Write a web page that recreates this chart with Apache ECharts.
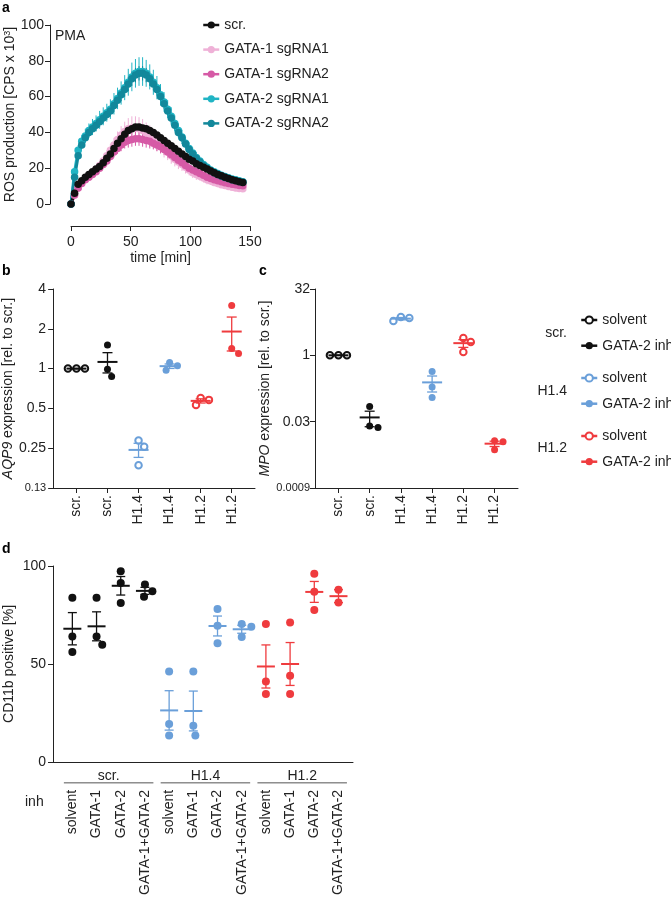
<!DOCTYPE html>
<html>
<head>
<meta charset="utf-8">
<script src="https://cdn.jsdelivr.net/npm/echarts@6/dist/echarts.min.js"></script>
<style>
  html, body { margin: 0; padding: 0; background: #fff; }
  #chart { width: 671px; height: 898px; }
</style>
</head>
<body>
<div id="chart"></div>
<script>
// ---- panel a: ROS kinetics (mean and SEM every 3 min) ----
const times = [0,3,6,9,12,15,18,21,24,27,30,33,36,39,42,45,48,51,54,57,60,63,66,69,72,75,78,81,84,87,90,93,96,99,102,105,108,111,114,117,120,123,126,129,132,135,138,141,144];
const scrMean = [0,6,11,13,15,16.5,18,19.5,21,23,25.5,28,31,34,36.5,39,41,42,43,43,42.5,42,41,40,38.5,37,35.5,34,32.5,31,29.5,28,26.5,25,24,22.5,21.5,20.5,19.5,18.5,17.5,16.5,15.8,15,14.3,13.6,13,12.5,12];
const scrSem = [0,0.5,0.8,1,1,1,1,1,1,1.2,1.2,1.2,1.3,1.3,1.3,1.4,1.4,1.4,1.4,1.4,1.4,1.4,1.3,1.3,1.3,1.2,1.2,1.2,1.1,1.1,1.1,1,1,1,1,1,0.9,0.9,0.9,0.9,0.8,0.8,0.8,0.8,0.7,0.7,0.7,0.7,0.7];
const g1r1Mean = [0,5,9,12,14,16,17.5,19.5,21.5,24,27,30,33,36,38.5,40.5,42,42.5,42.5,42,41,39.5,38,36.5,35,33,31,29,27,25,23.5,22,20.5,19,17.5,16.5,15.5,14.5,13.5,12.8,12,11.4,10.8,10.3,9.8,9.4,9,8.7,8.5];
const g1r1Sem = [0,0.5,1,1,1,1.5,1.5,2,2,2.5,3,3.5,4,4.5,5,5.5,6,6.5,6.5,6.5,6.5,6,6,5.5,5.5,5,5,4.5,4.5,4,4,3.5,3.5,3,3,3,2.5,2.5,2.5,2.2,2,2,1.8,1.8,1.6,1.6,1.5,1.5,1.5];
const g1r2Mean = [0,5,9,11.5,13.5,15,16.5,18,20,22,24,26.5,29,31,33,34.5,35.5,36,36.5,36.5,36,35.5,35,34,33,32,30.5,29,27.5,26,24.5,23,21.5,20,19,18,17,16,15,14.3,13.6,13,12.4,11.9,11.4,11,10.7,10.4,10.2];
const g1r2Sem = [0,0.5,1,1,1,1.2,1.5,1.5,2,2,2.5,2.5,3,3,3.5,3.5,4,4,4,4,4,4,4,3.5,3.5,3.5,3,3,3,3,2.5,2.5,2.5,2.2,2,2,2,1.8,1.6,1.5,1.5,1.4,1.3,1.2,1.2,1.1,1,1,1];
const g2r1Mean = [0,18,30,35,38,41,43,45,47,49,51,53,56,59,62,65,68,71,73,74,74,73,71,68,65,61,57,53,49,45,41,37.5,34,31,28.5,26,24,22,20.5,19,18,17,16,15.3,14.6,14,13.5,13,12.5];
const g2r1Sem = [0,2,3,3.5,4,4,4.5,4.5,5,5,5,5.5,6,6,6.5,7,7.5,8,8,8,8,7.5,7,7,6.5,6,5.5,5,5,4.5,4,4,3.5,3.5,3,3,2.5,2.5,2.5,2,2,2,2,1.8,1.8,1.6,1.5,1.5,1.5];
const g2r2Mean = [0,15,27,33,37,40,42,44,46,48,50,52,55,58,61,64,67,70,72,73,73,72,70,67,64,60,56,52,48,44,40,37,33.5,30.5,28,25.5,23.5,21.5,20,18.7,17.5,16.5,15.6,14.8,14.2,13.6,13.1,12.6,12.2];
const g2r2Sem = [0,1.5,2,2,2.5,2.5,2.5,3,3,3,3,3,3.5,3.5,3.5,4,4,4,4,4,4,4,4,3.5,3.5,3.5,3,3,3,3,2.5,2.5,2.5,2,2,2,2,1.8,1.6,1.5,1.5,1.4,1.3,1.2,1.2,1.1,1,1,1];
const curveNames = ['scr.', 'GATA-1 sgRNA1', 'GATA-1 sgRNA2', 'GATA-2 sgRNA1', 'GATA-2 sgRNA2'];
const rosTicks = [0, 20, 40, 60, 80, 100];

// ---- panels b/c: qPCR, three replicates per condition ----
const exprLines = ['scr.', 'scr.', 'H1.4', 'H1.4', 'H1.2', 'H1.2'];
const exprTreat = ['solvent', 'GATA-2 inh', 'solvent', 'GATA-2 inh', 'solvent', 'GATA-2 inh'];
const aqp9 = [[1, 1, 1], [1.51, 0.99, 0.87], [0.286, 0.256, 0.186], [1.11, 1.05, 0.97], [0.6, 0.58, 0.53], [3.0, 1.42, 1.3]];
const mpo = [[1, 1, 1], [0.069, 0.025, 0.023], [7.4, 6.0, 7.0], [0.43, 0.19, 0.11], [2.48, 2.0, 1.19], [0.0115, 0.011, 0.0072]];
const aqp9Ticks = [0.125, 0.25, 0.5, 1, 2, 4];
const aqp9TickText = ['0.13', '0.25', '0.5', '1', '2', '4'];
const mpoTicks = [1 / 1024, 1 / 32, 1, 32];
const mpoTickText = ['0.0009', '0.03', '1', '32'];

// ---- panel d: CD11b positive cells ----
const cd11bLines = ['scr.', 'scr.', 'scr.', 'scr.', 'H1.4', 'H1.4', 'H1.4', 'H1.4', 'H1.2', 'H1.2', 'H1.2', 'H1.2'];
const cd11bInh = ['solvent', 'GATA-1', 'GATA-2', 'GATA-1+GATA-2', 'solvent', 'GATA-1', 'GATA-2', 'GATA-1+GATA-2', 'solvent', 'GATA-1', 'GATA-2', 'GATA-1+GATA-2'];
const cd11b = [
  [83.8, 64, 56.1], [83.8, 64, 59.8], [97.3, 91.3, 81.1], [90.5, 87.1, 84.3],
  [46.1, 19.3, 13.4], [46.1, 18.4, 13.4], [78.1, 69.5, 60.5], [70.4, 69, 63.7],
  [70.4, 41, 34.7], [71.2, 44, 34.7], [96, 86.8, 77.5], [87.9, 81.3]
];
const cd11bTicks = [0, 50, 100];

const FONT = '"Liberation Sans", Arial, sans-serif';
const INK = '#222';
const curveColors = ['#111111', '#efb1d7', '#d65aa6', '#20b4c4', '#12889b'];
const lineColors = { 'scr.': '#111111', 'H1.4': '#6a9fd9', 'H1.2': '#ef3b3e' };

const chart = echarts.init(document.getElementById('chart'));

function axis(extra) {
  return Object.assign({}, extra, {
    axisLine: Object.assign({ show: true, onZero: false, lineStyle: { color: INK, width: 1 } }, extra.axisLine || {}),
    axisTick: Object.assign({ show: true, length: 5, lineStyle: { color: INK } }, extra.axisTick || {}),
    axisLabel: Object.assign({ color: INK, fontSize: 14, fontFamily: FONT }, extra.axisLabel || {}),
    splitLine: { show: false },
    nameTextStyle: Object.assign({ color: INK, fontSize: 14, fontFamily: FONT }, extra.nameTextStyle || {})
  });
}

function tickText(v, ticks, texts) {
  const k = ticks.findIndex(t => Math.abs(t - v) / t < 1e-6);
  if (k < 0) return '';
  return texts[k].length > 4 || texts[k] === '0.13' ? '{s|' + texts[k] + '}' : texts[k];
}

function meanSem(vals) {
  const n = vals.length;
  const m = vals.reduce((s, v) => s + v, 0) / n;
  const sd = Math.sqrt(vals.reduce((s, v) => s + (v - m) * (v - m), 0) / (n - 1));
  return [m, sd / Math.sqrt(n)];
}

function meanBars(colors, halfMean, halfCap) {
  return function (params, api) {
    const x = api.value(0), m = api.value(1), s = api.value(2);
    const c = api.coord([x, m]);
    const hi = api.coord([x, m + s]);
    const lo = api.coord([x, m - s]);
    const color = colors[params.dataIndex];
    const thin = { stroke: color, lineWidth: 1.3 };
    return {
      type: 'group',
      children: [
        { type: 'line', shape: { x1: c[0], y1: hi[1], x2: c[0], y2: lo[1] }, style: thin },
        { type: 'line', shape: { x1: c[0] - halfCap, y1: hi[1], x2: c[0] + halfCap, y2: hi[1] }, style: thin },
        { type: 'line', shape: { x1: c[0] - halfCap, y1: lo[1], x2: c[0] + halfCap, y2: lo[1] }, style: thin },
        { type: 'line', shape: { x1: c[0] - halfMean, y1: c[1], x2: c[0] + halfMean, y2: c[1] }, style: { stroke: color, lineWidth: 2 } }
      ]
    };
  };
}

// panel a series (draw order: light pink, magenta, cyan, teal, black)
const curveMeans = [scrMean, g1r1Mean, g1r2Mean, g2r1Mean, g2r2Mean];
const curveSems = [scrSem, g1r1Sem, g1r2Sem, g2r1Sem, g2r2Sem];
const seriesA = [];
[1, 2, 3, 4, 0].forEach(k => {
  const color = curveColors[k];
  seriesA.push({
    type: 'custom', xAxisIndex: 0, yAxisIndex: 0, silent: true,
    encode: { x: 0, y: 1 },
    data: times.map((t, i) => [t, curveMeans[k][i], curveSems[k][i]]),
    renderItem: (params, api) => {
      const hi = api.coord([api.value(0), api.value(1) + api.value(2)]);
      const lo = api.coord([api.value(0), api.value(1) - api.value(2)]);
      return { type: 'line', shape: { x1: hi[0], y1: hi[1], x2: lo[0], y2: lo[1] }, style: { stroke: color, lineWidth: 1 } };
    }
  });
  seriesA.push({
    type: 'line', name: curveNames[k], xAxisIndex: 0, yAxisIndex: 0,
    data: times.map((t, i) => [t, curveMeans[k][i]]),
    symbol: 'circle', symbolSize: 7.5, color: color,
    lineStyle: { width: 3, color: color }, itemStyle: { color: color }
  });
});

// panels b/c scatter series (data filled in after layout)
function exprSeries(prefix, xi) {
  return exprLines.map((ln, i) => {
    const color = lineColors[ln];
    const open = exprTreat[i] === 'solvent';
    return {
      id: prefix + i, type: 'line', name: ln + '|' + exprTreat[i],
      xAxisIndex: xi, yAxisIndex: xi, data: [],
      symbol: open ? 'emptyCircle' : 'circle', symbolSize: open ? 6.5 : 7, z: 3,
      color: color,
      itemStyle: { color: color, borderWidth: open ? 1.8 : 0 },
      lineStyle: { opacity: 0, color: color }
    };
  });
}

function exprMeans(groups, xi) {
  return {
    type: 'custom', xAxisIndex: xi, yAxisIndex: xi, silent: true, z: 4,
    encode: { x: 0, y: 1 },
    data: groups.map((vals, i) => [i].concat(meanSem(vals))),
    renderItem: meanBars(exprLines.map(l => lineColors[l]), 10, 5)
  };
}

const seriesD = cd11b.map((vals, i) => ({
  id: 'd' + i, type: 'scatter', xAxisIndex: 3, yAxisIndex: 3, data: [],
  symbol: 'circle', symbolSize: 8, z: 3, itemStyle: { color: lineColors[cd11bLines[i]], opacity: 1 }
}));

const groupNames = [...new Set(cd11bLines)];
const groupCenters = groupNames.map(g => {
  const idx = cd11bLines.map((l, i) => (l === g ? i : -1)).filter(i => i >= 0);
  return [idx.reduce((s, v) => s + v, 0) / idx.length, 0, (idx[idx.length - 1] - idx[0]) / 2 + 0.35];
});

const legendCommon = {
  orient: 'vertical', padding: 0, itemWidth: 16, itemHeight: 9, selectedMode: false,
  textStyle: { fontFamily: FONT, fontSize: 14, color: INK },
  lineStyle: { width: 2.5, opacity: 1 }
};

const option = {
  animation: false,
  backgroundColor: '#fff',
  textStyle: { fontFamily: FONT },
  grid: [
    { left: 71, top: 25, width: 179, height: 179 },
    { left: 53, top: 289, width: 202, height: 199 },
    { left: 315, top: 289, width: 203, height: 199 },
    { left: 53, top: 566, width: 300, height: 199 }
  ],
  xAxis: [
    axis({ gridIndex: 0, type: 'value', min: 0, max: 150, interval: 50, offset: 22,
      name: 'time [min]', nameLocation: 'middle', nameGap: 25, axisLabel: { margin: 9 } }),
    axis({ gridIndex: 1, type: 'value', min: -0.75, max: 5.75,
      axisTick: { customValues: exprLines.map((l, i) => i) },
      axisLabel: { customValues: exprLines.map((l, i) => i), rotate: 90, margin: 7, formatter: v => exprLines[Math.round(v)] } }),
    axis({ gridIndex: 2, type: 'value', min: -0.75, max: 5.75,
      axisTick: { customValues: exprLines.map((l, i) => i) },
      axisLabel: { customValues: exprLines.map((l, i) => i), rotate: 90, margin: 7, formatter: v => exprLines[Math.round(v)] } }),
    axis({ gridIndex: 3, type: 'value', min: -0.8, max: 11.6,
      axisTick: { show: false },
      axisLabel: { customValues: cd11bInh.map((l, i) => i), rotate: 90, margin: 28, formatter: v => cd11bInh[Math.round(v)] } })
  ],
  yAxis: [
    axis({ gridIndex: 0, type: 'value', min: rosTicks[0], max: rosTicks[rosTicks.length - 1], interval: 20, offset: 21,
      name: 'ROS production [CPS x 10{sup|3}]', nameLocation: 'middle', nameGap: 31,
      nameTextStyle: { rich: { sup: { fontSize: 9, fontFamily: FONT, color: INK, verticalAlign: 'top' } } },
      axisLabel: { margin: 6 } }),
    axis({ gridIndex: 1, type: 'log', logBase: 2, min: aqp9Ticks[0], max: aqp9Ticks[aqp9Ticks.length - 1],
      name: '{i|AQP9} expression [rel. to scr.]', nameLocation: 'middle', nameGap: 36,
      nameTextStyle: { rich: { i: { fontStyle: 'italic', fontSize: 14, fontFamily: FONT, color: INK } } },
      axisLabel: { margin: 7, formatter: v => tickText(v, aqp9Ticks, aqp9TickText),
        rich: { s: { fontSize: 11, fontFamily: FONT, color: INK } } } }),
    axis({ gridIndex: 2, type: 'log', logBase: 32, min: mpoTicks[0], max: mpoTicks[mpoTicks.length - 1],
      name: '{i|MPO} expression [rel. to scr.]', nameLocation: 'middle', nameGap: 35,
      nameTextStyle: { rich: { i: { fontStyle: 'italic', fontSize: 14, fontFamily: FONT, color: INK } } },
      axisLabel: { margin: 5, formatter: v => tickText(v, mpoTicks, mpoTickText),
        rich: { s: { fontSize: 11, fontFamily: FONT, color: INK } } } }),
    axis({ gridIndex: 3, type: 'value', min: cd11bTicks[0], max: cd11bTicks[cd11bTicks.length - 1], interval: 50,
      name: 'CD11b positive [%]', nameLocation: 'middle', nameGap: 37, axisLabel: { margin: 7 } })
  ],
  legend: [
    Object.assign({}, legendCommon, { left: 202, top: 18, itemGap: 10.6, data: curveNames }),
    ...groupNames.map((g, k) => Object.assign({}, legendCommon, {
      left: 580, top: [313, 371, 429][k], itemGap: 11.7,
      data: [g + '|solvent', g + '|GATA-2 inh'],
      formatter: n => n.split('|')[1]
    }))
  ],
  graphic: [
    { type: 'text', left: 2, top: 1, style: { text: 'a', font: 'bold 14px ' + FONT, fill: '#000' } },
    { type: 'text', left: 2, top: 264, style: { text: 'b', font: 'bold 14px ' + FONT, fill: '#000' } },
    { type: 'text', left: 259, top: 264, style: { text: 'c', font: 'bold 14px ' + FONT, fill: '#000' } },
    { type: 'text', left: 2, top: 542, style: { text: 'd', font: 'bold 14px ' + FONT, fill: '#000' } },
    { type: 'text', left: 55, top: 29, style: { text: 'PMA', font: '14px ' + FONT, fill: INK } },
    { type: 'text', left: 25, top: 795, style: { text: 'inh', font: '14px ' + FONT, fill: INK } },
    ...groupNames.map((g, k) => ({
      type: 'text', x: 567, y: [333, 391, 448][k],
      style: { text: g, font: '14px ' + FONT, fill: INK, align: 'right', verticalAlign: 'middle' }
    }))
  ],
  series: [
    ...seriesA,
    ...exprSeries('b', 1), exprMeans(aqp9, 1),
    ...exprSeries('c', 2), exprMeans(mpo, 2),
    ...seriesD,
    {
      type: 'custom', xAxisIndex: 3, yAxisIndex: 3, silent: true, z: 4,
      encode: { x: 0, y: 1 },
      data: cd11b.map((vals, i) => [i].concat(meanSem(vals))),
      renderItem: meanBars(cd11bLines.map(l => lineColors[l]), 9, 4.5)
    },
    {
      type: 'custom', xAxisIndex: 3, yAxisIndex: 3, silent: true, clip: false,
      encode: { x: 0, y: 1 },
      data: groupCenters,
      renderItem: (params, api) => {
        const x = api.value(0), half = api.value(2);
        const c = api.coord([x, 0]);
        const l = api.coord([x - half, 0]);
        const r = api.coord([x + half, 0]);
        return {
          type: 'group',
          children: [
            { type: 'text', x: c[0], y: c[1] + 14,
              style: { text: groupNames[params.dataIndex], fontSize: 14, fontFamily: FONT, fill: INK, align: 'center', verticalAlign: 'middle' } },
            { type: 'line', shape: { x1: l[0], y1: c[1] + 21, x2: r[0], y2: c[1] + 21 }, style: { stroke: '#555', lineWidth: 1 } }
          ]
        };
      }
    }
  ]
};

chart.setOption(option);

// beeswarm-style horizontal dodge, in pixels
function dodge(ys, d) {
  const order = ys.map((y, i) => i).sort((a, b) => ys[a] - ys[b]);
  const placed = [];
  const out = [];
  order.forEach(i => {
    const y = ys[i];
    const cands = [0];
    placed.forEach(p => {
      const dy = Math.abs(p.y - y);
      if (dy < d) {
        const w = Math.sqrt(d * d - dy * dy);
        cands.push(p.x + w, p.x - w);
      }
    });
    cands.sort((a, b) => Math.abs(a) - Math.abs(b));
    const x = cands.find(cx => placed.every(p => Math.hypot(p.x - cx, p.y - y) >= d - 0.01));
    placed.push({ x: x, y: y });
    out[i] = x;
  });
  return out;
}

function swarm(groups, axisIndex, d) {
  const unit = chart.convertToPixel({ xAxisIndex: axisIndex }, 1) - chart.convertToPixel({ xAxisIndex: axisIndex }, 0);
  return groups.map((vals, i) => {
    const ys = vals.map(v => chart.convertToPixel({ yAxisIndex: axisIndex }, v));
    const dx = dodge(ys, d);
    return vals.map((v, j) => [i + dx[j] / unit, v]);
  });
}

const bPts = swarm(aqp9, 1, 8.5);
const cPts = swarm(mpo, 2, 8.5);
const dPts = swarm(cd11b, 3, 10);
chart.setOption({
  series: [
    ...bPts.map((data, i) => ({ id: 'b' + i, data: data })),
    ...cPts.map((data, i) => ({ id: 'c' + i, data: data })),
    ...dPts.map((data, i) => ({ id: 'd' + i, data: data }))
  ]
});

window.addEventListener('resize', () => chart.resize());
</script>
</body>
</html>
